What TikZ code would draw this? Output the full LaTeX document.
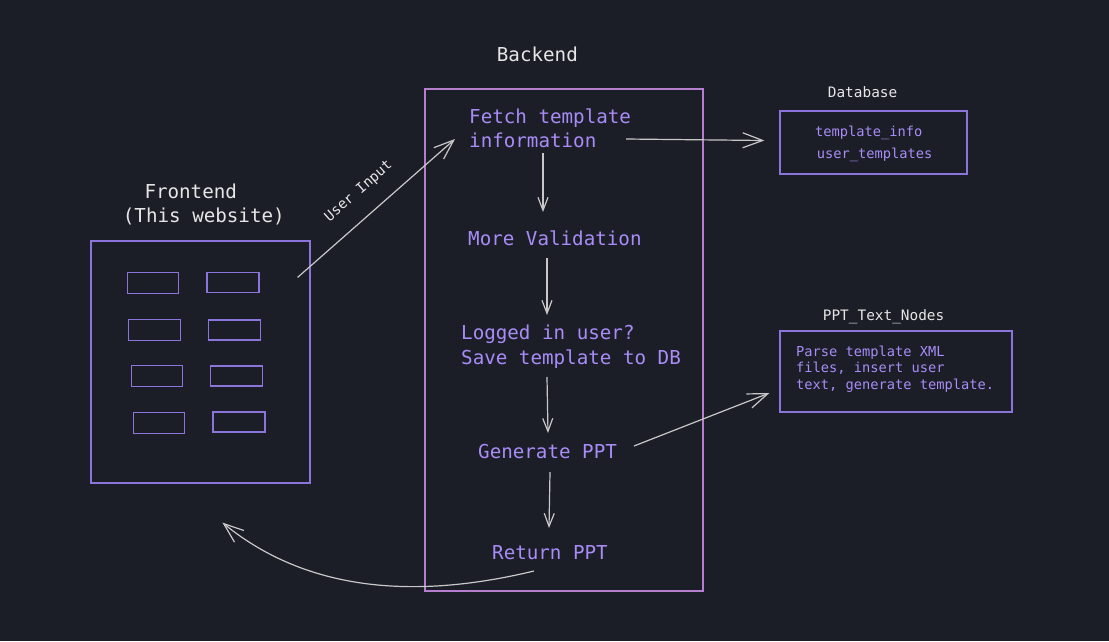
\documentclass[tikz,border=0pt]{standalone}
\usepackage{fontspec}
\setmainfont{DejaVu Sans Mono}
\usetikzlibrary{arrows.meta,calc}
\definecolor{bgc}{HTML}{1B1E27}
\definecolor{whitec}{HTML}{E6E6E6}
\definecolor{purpt}{HTML}{A98CF7}
\definecolor{purpb}{HTML}{8B74DA}
\definecolor{pinkb}{HTML}{B77ECF}
\definecolor{arrc}{HTML}{C8C8C8}
\begin{document}
\begin{tikzpicture}[x=1pt,y=-1pt,
  ptxt/.style={font=\fontsize{19.2}{24}\selectfont, text=purpt, inner sep=0pt, anchor=base west},
  wtxt/.style={font=\fontsize{19.2}{24}\selectfont, text=whitec, inner sep=0pt, anchor=base west},
  whead/.style={font=\fontsize{14.4}{17}\selectfont, text=whitec, inner sep=0pt, anchor=base west},
  stxt/.style={font=\fontsize{13.7}{16}\selectfont, text=purpt, inner sep=0pt, anchor=base west},
  pbox/.style={draw=purpb, line width=1.2pt, inner sep=0pt},
  bbox/.style={draw=pinkb, line width=1.2pt, inner sep=0pt},
  mini/.style={draw=purpb, line width=1.2pt, inner sep=0pt, minimum width=51pt, minimum height=21pt},
  arrs/.style={draw=arrc, line width=1.2pt, -{Straight Barb[length=13pt,width=10pt]}},
  arrl/.style={draw=arrc, line width=1.2pt, -{Straight Barb[length=20pt,width=15pt]}}
]
\fill[bgc] (0,0) rectangle (1109,641);
\useasboundingbox (0,0) rectangle (1109,641);

% Backend
\node[wtxt] (backendlbl) at (496.7,61.7) {Backend};
\node[bbox, minimum width=278pt, minimum height=502pt] (backend) at (564,340) {};
\node[ptxt] (fetchA) at (469,123) {Fetch template};
\node[ptxt] (fetchB) at (469,147) {information};
\node[ptxt] (valid) at (468,245) {More Validation};
\node[ptxt] (logA) at (461,339) {Logged in user?};
\node[ptxt] (logB) at (461,364) {Save template to DB};
\node[ptxt] (gen) at (478,458) {Generate PPT};
\node[ptxt] (ret) at (492,559) {Return PPT};

% Frontend
\node[wtxt] (frontA) at (144.3,198.3) {Frontend};
\node[wtxt] (frontB) at (122.7,222.7) {(This website)};
\node[pbox, minimum width=219pt, minimum height=242pt] (frontbox) at (200.5,362) {};
\node[mini] (r1a) at (153,283.3) {};
\node[mini, minimum width=52pt, minimum height=20pt] (r1b) at (233,282.5) {};
\node[mini, minimum width=52pt] (r2a) at (154.7,330.3) {};
\node[mini, minimum width=52pt, minimum height=20pt] (r2b) at (234.8,330) {};
\node[mini] (r3a) at (157.2,376.3) {};
\node[mini, minimum width=52pt, minimum height=20pt] (r3b) at (236.7,376) {};
\node[mini] (r4a) at (159.3,423.2) {};
\node[mini, minimum width=52pt, minimum height=20pt] (r4b) at (239,422) {};

% Database
\node[whead] (dblbl) at (827.7,97.3) {Database};
\node[pbox, minimum width=187pt, minimum height=63pt] (dbbox) at (873.5,142.5) {};
\node[stxt] (dbA) at (815,136.7) {template\_info};
\node[stxt] (dbB) at (816.7,158) {user\_templates};

% PPT_Text_Nodes
\node[whead] (pptlbl) at (822.7,320) {PPT\_Text\_Nodes};
\node[pbox, minimum width=232pt, minimum height=81pt] (pptbox) at (896,371.5) {};
\node[stxt] (pptA) at (796,356.7) {Parse template XML};
\node[stxt] (pptB) at (796,372.9) {files, insert user};
\node[stxt] (pptC) at (796,389.1) {text, generate template.};

% Connectors
\draw[arrs] ($(fetchB.base west)+(74,6)$) -- ($(valid.base west)+(75,-33)$);
\draw[arrs] ($(valid.base west)+(79,13)$) -- ($(logA.base west)+(86,-24)$);
\draw[arrs] ($(logB.base west)+(86,13)$) -- ($(gen.base west)+(70,-25)$);
\draw[arrs] ($(gen.base west)+(72,14)$) -- ($(ret.base west)+(57,-31)$);
\draw[arrl] ($(fetchA.base west)+(157,16)$) -- ($(dbbox.west)+(-15,-2)$);
\draw[arrl] ($(gen.base west)+(156,-12)$) -- ($(pptbox.west)+(-10,21.5)$);
\draw[arrl] ($(frontbox.north east)+(-13,37)$) --
  node[pos=0.49, sloped, above=17pt, inner sep=0pt, font=\fontsize{14}{16}\selectfont, text=whitec] (uin) {User Input}
  ($(fetchA.base west)+(-14,16)$);
\draw[arrl] ($(ret.base west)+(42,12)$) .. controls (430,596) and (315,598) .. ($(frontbox.south west)+(132,39)$);
\end{tikzpicture}
\end{document}
